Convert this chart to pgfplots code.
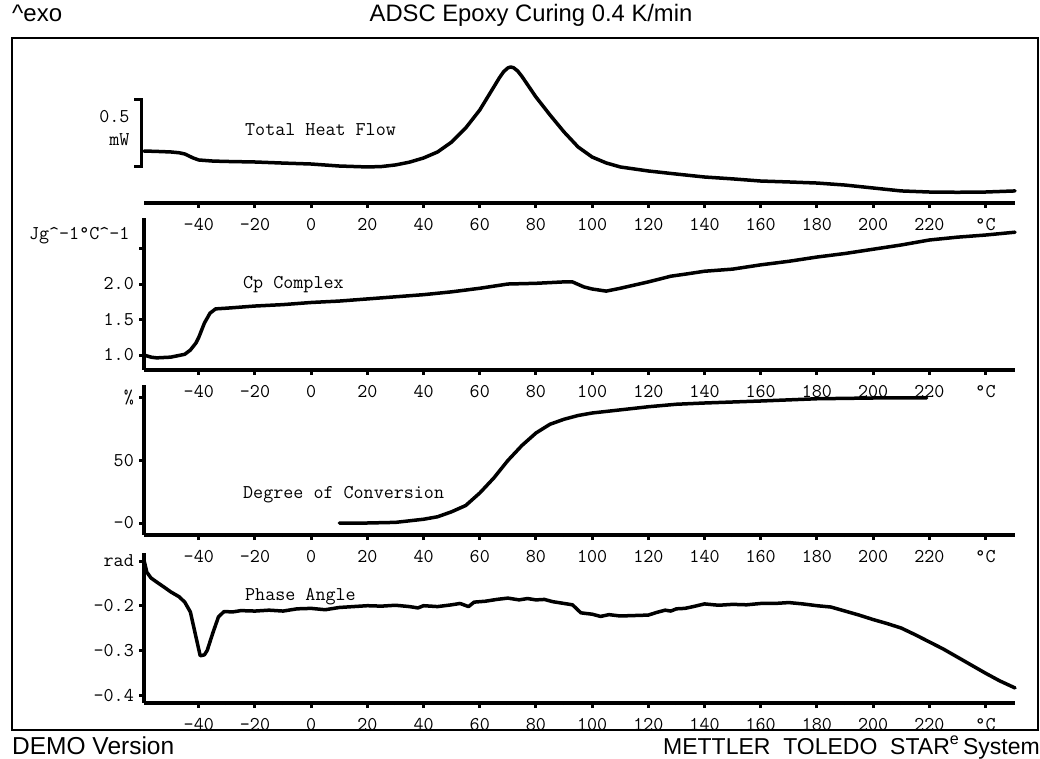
\documentclass[border=0pt]{standalone}
\usepackage{pgfplots}
\pgfplotsset{compat=1.18}
\usepackage{fontspec}
\setmainfont{Liberation Sans}

% one panel of the STAR plot: shared temperature axis
\pgfplotsset{
  panel/.style={
    scale only axis, width=871pt,
    xmin=-59.5, xmax=250.5,
    axis x line*=bottom, axis y line*=left,
    axis line style={line width=3.5pt},
    xtick={-40,-20,...,240},
    xticklabels={-40,-20,0,20,40,60,80,100,120,140,160,180,200,220,°C},
    minor x tick num=1,
    tick align=outside,
    major tick length=5pt, minor tick length=2pt,
    every tick/.style={black, line width=3pt},
    tick label style={font=\fontsize{19.5}{21}\selectfont\ttfamily, inner sep=2pt},
    xticklabel style={yshift=-8pt},
    yticklabel style={xshift=-3pt},
    clip=false,
    cycle list={{black, mark=none}},
    every axis plot post/.append style={line width=3.5pt, line join=round, line cap=round},
  }
}

\begin{document}
\begin{tikzpicture}
\useasboundingbox (0pt,0pt) rectangle (1040pt,758pt);

% header, footer and frame
\draw[line width=1.5pt] (12pt,28pt) rectangle (1038pt,720pt);
\node[anchor=base, inner sep=0pt, font=\fontsize{23.8}{26}\selectfont] at (531pt,736pt) {ADSC Epoxy Curing 0.4 K/min};
\node[anchor=base west, inner sep=0pt, font=\fontsize{24}{26}\selectfont] at (12pt,736pt) {\textasciicircum exo};
\node[anchor=base west, inner sep=0pt, font=\fontsize{24.5}{26}\selectfont] at (12pt,4pt) {DEMO Version};
\node[anchor=base east, inner sep=0pt, font=\fontsize{23}{26}\selectfont] at (1040pt,4pt) {METTLER\ \ TOLEDO\ \ STAR\textsuperscript{e}\,System};

% Total Heat Flow
\begin{axis}[panel, at={(144pt,555pt)}, anchor=south west, height=153pt,
  ymin=0, ymax=1.142, axis y line=none, ytick=\empty]
\addplot coordinates {
  (-59.5,0.388) (-55,0.385) (-50,0.381) (-47,0.375) (-45,0.366) (-42,0.336)
  (-40,0.321) (-35,0.313) (-30,0.310) (-20,0.306) (-10,0.298) (0,0.291)
  (10,0.276) (20,0.269) (25,0.272) (30,0.284) (35,0.305) (40,0.336)
  (45,0.381) (50,0.455) (55,0.560) (60,0.694) (65,0.866) (67,0.935)
  (68.5,0.980) (70,1.008) (71,1.015) (72,1.010) (73.5,0.985) (75,0.945)
  (80,0.791) (85,0.657) (90,0.530)
  (95,0.418) (100,0.343) (105,0.299) (110,0.269) (120,0.239) (130,0.216)
  (140,0.194) (150,0.180) (160,0.164) (170,0.157) (180,0.149) (190,0.134)
  (200,0.112) (210,0.090) (220,0.082) (230,0.080) (240,0.082) (250.5,0.090)
};
\end{axis}
\draw[line width=3pt] (134pt,658pt) -- (141pt,658pt) -- (141pt,591pt) -- (134pt,591pt);
\node[anchor=east, font=\fontsize{19.5}{21}\selectfont\ttfamily] at (133pt,641pt) {0.5};
\node[anchor=east, font=\fontsize{19.5}{21}\selectfont\ttfamily] at (133pt,618pt) {mW};
\node[anchor=west, inner sep=0pt, font=\fontsize{19.5}{21}\selectfont\ttfamily] at (245pt,628pt) {Total Heat Flow};

% Cp Complex
\begin{axis}[panel, at={(144pt,388pt)}, anchor=south west, height=152pt,
  ymin=0.789, ymax=2.930, ytick={1,1.5,2,2.5}, yticklabels={1.0,1.5,2.0,{}}]
\addplot coordinates {
  (-59.5,1.00) (-57,0.97) (-55,0.96) (-50,0.97) (-45,1.01) (-43,1.07)
  (-41,1.17) (-40,1.25) (-38,1.45) (-36,1.59) (-34,1.65) (-30,1.66)
  (-20,1.69) (-10,1.71) (0,1.74) (10,1.76) (20,1.79) (30,1.82) (40,1.85)
  (50,1.89) (60,1.94) (70,2.00) (80,2.01) (90,2.03) (93,2.03) (97,1.96)
  (100,1.93) (105,1.90) (110,1.94) (120,2.03) (128,2.11) (135,2.15)
  (140,2.18) (150,2.21) (160,2.27) (170,2.32) (180,2.38) (190,2.43)
  (200,2.49) (210,2.55) (220,2.62) (230,2.66) (240,2.69) (250.5,2.73)
};
\end{axis}
\node[anchor=east, font=\fontsize{19.5}{21}\selectfont\ttfamily] at (133pt,522pt) {Jg\textasciicircum-1°C\textasciicircum-1};
\node[anchor=west, inner sep=0pt, font=\fontsize{19.5}{21}\selectfont\ttfamily] at (243pt,473pt) {Cp Complex};

% Degree of Conversion
\begin{axis}[panel, at={(144pt,223pt)}, anchor=south west, height=150pt,
  ymin=-9.6, ymax=110.4, ytick={0,50,100}, yticklabels={-0,50,\%}]
\addplot coordinates {
  (10,0) (20,0) (30,0.5) (40,3) (45,5) (50,9) (55,14) (60,24) (65,36)
  (70,50) (75,62) (80,72) (85,79) (90,83) (95,86) (100,88) (110,90.5)
  (120,93) (130,95) (140,96) (160,97.6) (180,99.4) (200,100) (219,100)
};
\end{axis}
\node[anchor=west, inner sep=0pt, font=\fontsize{19.5}{21}\selectfont\ttfamily] at (243pt,263pt) {Degree of Conversion};

% Phase Angle
\begin{axis}[panel, at={(144pt,55pt)}, anchor=south west, height=150pt,
  ymin=-0.4177, ymax=-0.0821, ytick={-0.4,-0.3,-0.2,-0.1},
  yticklabels={-0.4,-0.3,-0.2,rad}]
\addplot coordinates {
  (-59.5,-0.098) (-58.5,-0.125) (-57,-0.138) (-55,-0.147) (-52,-0.160)
  (-50,-0.169) (-47,-0.180) (-45,-0.192) (-43,-0.214) (-41,-0.270)
  (-39.5,-0.312) (-38,-0.310) (-37,-0.300) (-35,-0.261) (-33,-0.225)
  (-31,-0.213) (-28,-0.214) (-25,-0.211) (-20,-0.212) (-15,-0.210)
  (-10,-0.212) (-5,-0.207) (0,-0.206) (5,-0.209) (10,-0.204) (15,-0.202)
  (20,-0.200) (25,-0.201) (30,-0.199) (35,-0.202) (38,-0.205) (40,-0.200)
  (45,-0.202) (50,-0.198) (53,-0.195) (56,-0.202) (58,-0.192) (62,-0.190)
  (66,-0.186) (70,-0.183) (74,-0.187) (77,-0.184) (80,-0.187) (83,-0.186)
  (86,-0.191) (90,-0.195) (93,-0.198) (96,-0.216) (100,-0.219) (103,-0.224)
  (106,-0.220) (110,-0.223) (115,-0.222) (120,-0.221) (123,-0.215)
  (126,-0.210) (128,-0.212) (130,-0.207) (133,-0.206) (136,-0.202)
  (140,-0.196) (145,-0.199) (150,-0.197) (155,-0.198) (160,-0.195)
  (165,-0.195) (170,-0.193) (175,-0.196) (180,-0.200) (185,-0.203)
  (190,-0.212) (195,-0.221) (200,-0.231) (205,-0.240) (210,-0.250)
  (215,-0.265) (220,-0.281) (225,-0.297) (230,-0.315) (235,-0.333)
  (240,-0.351) (245,-0.368) (250.5,-0.384)
};
\end{axis}
\node[anchor=west, inner sep=0pt, font=\fontsize{19.5}{21}\selectfont\ttfamily] at (245pt,161pt) {Phase Angle};

\end{tikzpicture}
\end{document}
